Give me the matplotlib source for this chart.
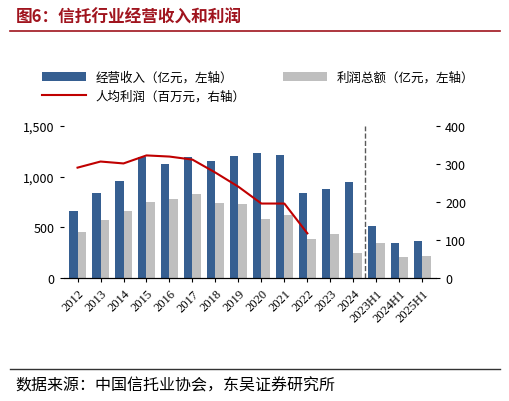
import numpy as np
import matplotlib.pyplot as plt

plt.rcParams['font.family'] = ['Noto Sans CJK SC', 'DejaVu Sans']

years = ['2012', '2013', '2014', '2015', '2016', '2017', '2018', '2019', '2020',
         '2021', '2022', '2023', '2024', '2023H1', '2024H1', '2025H1']
revenue = [657, 843, 960, 1196, 1127, 1196, 1157, 1206, 1235, 1216, 843, 873, 950, 510, 343, 363]
profit = [451, 578, 657, 755, 784, 833, 745, 735, 588, 618, 382, 431, 245, 343, 206, 216]
per_capita = [290, 306, 301, 322, 319, 311, 277, 240, 196, 196, 118]

fig = plt.figure(figsize=(5.10, 4.02), dpi=100)
ax = fig.add_axes([0.125, 0.305, 0.73, 0.38])
ax2 = ax.twinx()

x = np.arange(len(years))
w = 0.36
b1 = ax.bar(x - w / 2, revenue, w, color='#365F91', label='经营收入（亿元，左轴）')
b2 = ax.bar(x + w / 2, profit, w, color='#BFBFBF', label='利润总额（亿元，左轴）')
l1, = ax2.plot(np.arange(len(per_capita)), per_capita, color='#C00000', lw=1.5,
               label='人均利润（百万元，右轴）')
ax.axvline(12.5, color='#595959', ls='--', lw=1)

ax.set_ylim(0, 1500)
ax.set_yticks([0, 500, 1000, 1500])
ax.set_yticklabels(['0', '500', '1,000', '1,500'])
ax2.set_ylim(0, 400)
ax2.set_yticks([0, 100, 200, 300, 400])
ax.set_xlim(-0.6, len(years) - 0.4)
ax.set_xticks(x)
ax.set_xticklabels(years, rotation=45, ha='right', rotation_mode='anchor', fontsize=9,
                   family=['Times New Roman', 'Liberation Serif'])
for a in (ax, ax2):
    a.tick_params(labelsize=9, length=3)
    a.spines['top'].set_visible(False)
ax.spines['left'].set_visible(False)
ax.spines['right'].set_visible(False)
ax2.spines['left'].set_visible(False)
ax2.spines['right'].set_visible(False)

fig.legend(handles=[b1, l1, b2], loc='upper left', bbox_to_anchor=(0.06, 0.85),
           ncol=2, frameon=False, fontsize=9, columnspacing=3, handlelength=3.5)

fig.text(0.03, 0.955, '图6：信托行业经营收入和利润', color='#A0141E', fontsize=12,
         fontweight='bold', va='center')
fig.add_artist(plt.Line2D([0.02, 0.98], [0.92, 0.92], color='#A0141E', lw=1.2))
fig.add_artist(plt.Line2D([0.02, 0.98], [0.08, 0.08], color='#333333', lw=1))
fig.text(0.03, 0.04, '数据来源：中国信托业协会，东吴证券研究所', fontsize=11.5, va='center')

fig.savefig('out.png', dpi=100)
